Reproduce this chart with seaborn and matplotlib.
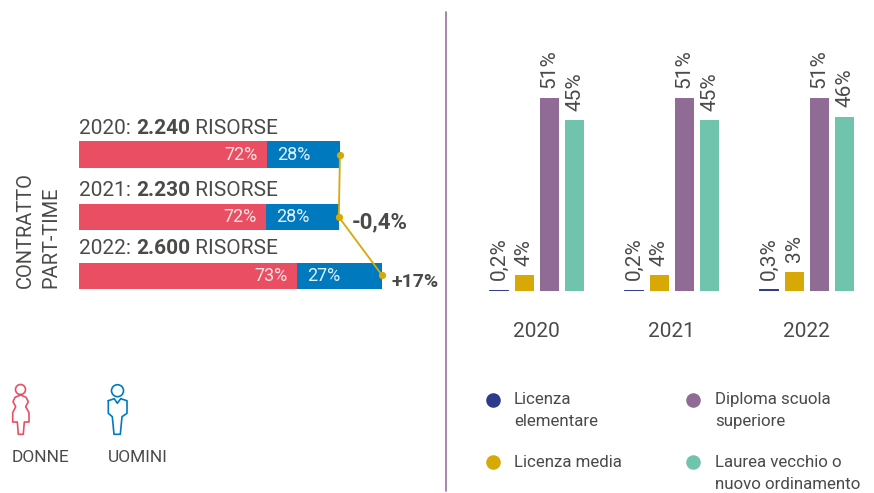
import matplotlib
matplotlib.use("Agg")
import matplotlib.pyplot as plt
import pandas as pd
import seaborn as sns
from matplotlib.patches import Circle

# --- dati ---
anni = ["2020", "2021", "2022"]
totali_label = ["2.240", "2.230", "2.600"]
totali = [2240, 2230, 2600]
donne = [1613, 1606, 1871]
quota_donne = ["72%", "72%", "73%"]
quota_uomini = ["28%", "28%", "27%"]
variazioni = ["-0,4%", "+17%"]

titoli = ["Licenza elementare", "Licenza media", "Diploma scuola superiore", "Laurea vecchio o nuovo ordinamento"]
elementare = [0.2, 0.2, 0.3]
media = [4, 4, 5]  # la barra 2022 e' disegnata piu' alta di quella da 4%, pur con etichetta 3%
diploma = [51, 51, 51]
laurea = [45, 45, 46]
etichette = [
    ["0,2%", "0,2%", "0,3%"],
    ["4%", "4%", "3%"],
    ["51%", "51%", "51%"],
    ["45%", "45%", "46%"],
]

ROSSO = "#ea4e62"
BLU = "#0079bf"
VIOLA = "#8f6b96"
VERDE = "#70c4ad"
ORO = "#d8a806"
NAVY = "#2e3a8c"
GRIGIO = "#4a4a48"
W, H = 874, 493

sns.set_theme(style="white")
plt.rcParams["font.family"] = ["Roboto", "DejaVu Sans"]
plt.rcParams["text.color"] = GRIGIO

fig = plt.figure(figsize=(W / 100, H / 100), dpi=100)


def rect(x0, y0, x1, y1):
    # da pixel (origine in alto) a frazioni di figura
    return [x0 / W, 1 - y1 / H, (x1 - x0) / W, (y1 - y0) / H]


# livello di sfondo in pixel per testi, icone e legenda
over = fig.add_axes([0, 0, 1, 1], zorder=5)
over.set_xlim(0, W)
over.set_ylim(H, 0)
over.set_axis_off()

# barre orizzontali, una riga per anno
righe = [(141, 168), (204, 230), (263, 289)]
scala_x = (79, 79 + 3000 * 0.1165)
titoli_y = [138, 200, 258.5]
punti = []
for i, anno in enumerate(anni):
    ax = fig.add_axes(rect(scala_x[0], righe[i][0], scala_x[1], righe[i][1]))
    sns.barplot(x=[totali[i]], y=[anno], color=BLU, width=1, saturation=1, linewidth=0, ax=ax)
    sns.barplot(x=[donne[i]], y=[anno], color=ROSSO, width=1, saturation=1, linewidth=0, ax=ax)
    ax.set_xlim(0, 3000)
    ax.set_ylim(0.5, -0.5)
    ax.set_axis_off()
    ax.annotate(quota_donne[i], xy=(donne[i], 0), xytext=(-9, 0), textcoords="offset pixels",
                ha="right", va="center", color="#f7e6e8", fontsize=13)
    ax.annotate(quota_uomini[i], xy=(donne[i], 0), xytext=(10, 0), textcoords="offset pixels",
                ha="left", va="center", color="#e3f0f8", fontsize=13)
    px = ax.transData.transform((totali[i], 0))
    punti.append(over.transData.inverted().transform(px))

    t1 = over.text(79, titoli_y[i], anno + ": ", fontsize=15, va="bottom", ha="left")
    t2 = over.annotate(totali_label[i], xy=(1, 0), xycoords=t1, va="bottom", ha="left",
                       fontsize=15, weight="bold")
    over.annotate(" RISORSE", xy=(1, 0), xycoords=t2, va="bottom", ha="left", fontsize=15)

# connettore dorato tra i totali
xs = [p[0] for p in punti]
over.plot(xs, [155, 217, 275], color=ORO, lw=1.3, marker="o", ms=4.2)
over.text(352, 222, variazioni[0], fontsize=16, weight="bold", va="center", ha="left")
over.text(391, 282, variazioni[1], fontsize=14, weight="bold", va="center", ha="left")

over.text(25, 288, "CONTRATTO", rotation=90, fontsize=14.5, va="bottom", ha="center")
over.text(51, 288, "PART-TIME", rotation=90, fontsize=14.5, va="bottom", ha="center")

# divisore
over.plot([446, 446], [12, 491], color="#9b6f9f", lw=1.2)

# icone donna / uomo
donna_x = [20.7, 15, 13, 15.7, 12.7, 12.7, 17.3, 18.3, 23.3, 24.3, 29, 29, 25.7, 28.3, 26, 20.7]
donna_y = [395, 397.3, 401.7, 406.7, 412.7, 422, 422, 434.3, 434.3, 422, 422, 412.7, 406.7, 401.7, 397.3, 395]
uomo_x = [108.3, 114.3, 117.3, 120.7, 127, 127, 122, 120.3, 114, 112.3, 108.3, 108.3]
uomo_y = [400.7, 398.7, 403.3, 398.7, 400.7, 413.3, 416.7, 434.3, 434.3, 416.7, 413.3, 400.7]
over.plot(donna_x, donna_y, color=ROSSO, lw=1.2)
over.plot(uomo_x, uomo_y, color=BLU, lw=1.2)
over.add_patch(Circle((20.5, 389.5), 5, fill=False, ec=ROSSO, lw=1.2))
over.add_patch(Circle((117.5, 390.7), 6, fill=False, ec=BLU, lw=1.2))
over.text(12, 457, "DONNE", fontsize=12.5, va="center", ha="left")
over.text(108, 457, "UOMINI", fontsize=12.5, va="center", ha="left")

# barre verticali per titolo di studio
valori = [elementare, media, diploma, laurea]
df = pd.DataFrame(
    [(a, t, v[j]) for t, v in zip(titoli, valori) for j, a in enumerate(anni)],
    columns=["anno", "titolo", "valore"],
)
colori = [NAVY, ORO, VIOLA, VERDE]
axb = fig.add_axes(rect(469.25, 63.7, 874.25, 290.5))
sns.barplot(data=df, x="anno", y="valore", hue="titolo", hue_order=titoli, palette=colori,
            width=0.747, gap=0.25, saturation=1, linewidth=0, legend=False, ax=axb)
axb.set_xlim(-0.5, 2.5)
axb.set_ylim(0, 60)
axb.set_xlabel("")
axb.set_ylabel("")
axb.set_yticks([])
axb.tick_params(axis="x", length=0, pad=23, labelsize=15, labelcolor=GRIGIO)
axb.patch.set_alpha(0)
sns.despine(ax=axb, left=True, bottom=True)
for cont, lab in zip(axb.containers, etichette):
    axb.bar_label(cont, labels=lab, rotation=90, padding=7, fontsize=15, color=GRIGIO, clip_on=False)
# la barra dello 0,2% resta visibile come filetto
for barra in axb.containers[0]:
    barra.set_edgecolor(NAVY)
    barra.set_linewidth(0.7)

# legenda
voci = [
    (493, 400, NAVY, 514, 399, "Licenza\nelementare"),
    (493, 462, ORO, 514, 462, "Licenza media"),
    (693, 400, VIOLA, 715, 399, "Diploma scuola\nsuperiore"),
    (693, 462, VERDE, 715, 462, "Laurea vecchio o\nnuovo ordinamento"),
]
for cx, cy, col, tx, ty, testo in voci:
    over.scatter([cx], [cy], s=110, color=col, linewidths=0)
    # la prima riga resta allineata al pallino
    over.text(tx, ty - 7, testo, fontsize=12.2, va="top", ha="left", linespacing=1.6)

fig.savefig("out.png", dpi=100, facecolor="white")
